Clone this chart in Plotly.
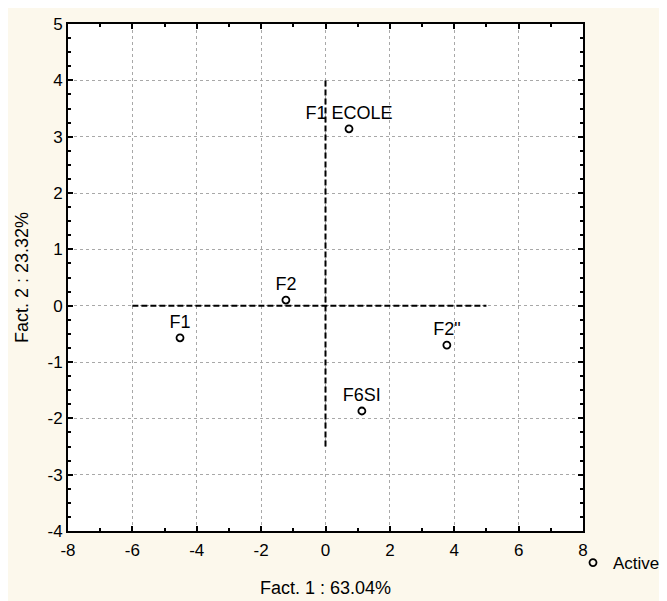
import plotly.graph_objects as go

# Data
labels = ["F1 ECOLE", "F2", "F1", "F2\"", "F6SI"]
fact1 = [0.73, -1.23, -4.52, 3.77, 1.13]
fact2 = [3.14, 0.10, -0.57, -0.70, -1.87]
series_name = "Active"
hline_x = [-6, 5]
vline_y = [-2.5, 4]
x_ticks = [-8, -6, -4, -2, 0, 2, 4, 6, 8]
y_ticks = [-4, -3, -2, -1, 0, 1, 2, 3, 4, 5]

font = "Liberation Sans, Arial, sans-serif"

fig = go.Figure()
fig.add_trace(go.Scatter(
    x=fact1, y=fact2, text=labels, mode="markers+text",
    name=series_name, textposition="top center",
    textfont=dict(family=font, size=18, color="black"),
    marker=dict(symbol="circle-open", size=7, color="black", line=dict(width=1.8)),
    cliponaxis=False,
))
fig.add_shape(type="line", xref="x", yref="y", x0=hline_x[0], x1=hline_x[1], y0=0, y1=0,
              line=dict(color="black", width=2, dash="6px,3px"))
fig.add_shape(type="line", xref="x", yref="y", x0=0, x1=0, y0=vline_y[0], y1=vline_y[1],
              line=dict(color="black", width=2, dash="6px,3px"))

axis_common = dict(
    showline=True, linecolor="black", linewidth=2, mirror="ticks",
    ticks="inside", ticklen=5, tickcolor="black", tickwidth=1.5,
    showgrid=True, gridcolor="#a8a8a8", griddash="dot", gridwidth=1,
    zeroline=False, tickfont=dict(family=font, size=17, color="black"),
    automargin=False,
)
fig.update_xaxes(range=[-8, 8], tickvals=x_ticks, ticktext=[str(v) for v in x_ticks], **axis_common,
                 ticklabelstandoff=3,
                 minor=dict(dtick=1, ticks="inside", ticklen=3, tickcolor="black", showgrid=False),
                 title=dict(text="Fact. 1 : 63.04%", font=dict(family=font, size=18, color="black"), standoff=22))
fig.update_yaxes(range=[-4, 5], tickvals=y_ticks, ticktext=[str(v) for v in y_ticks], **axis_common,
                 minor=dict(dtick=0.25, ticks="inside", ticklen=3, tickcolor="black", showgrid=False),
                 title=dict(text="Fact. 2 : 23.32%", font=dict(family=font, size=18, color="black"), standoff=14))

fig.update_layout(
    width=667, height=601,
    margin=dict(l=60, r=92, t=16, b=78, autoexpand=False),
    paper_bgcolor="#fcf8ec", plot_bgcolor="white",
    showlegend=True,
    legend=dict(xref="container", yref="container", x=0.985, y=0.1065, xanchor="right", yanchor="top",
                bgcolor="rgba(0,0,0,0)", font=dict(family=font, size=17, color="black"), itemwidth=30),
)
fig.write_html("out.html")
